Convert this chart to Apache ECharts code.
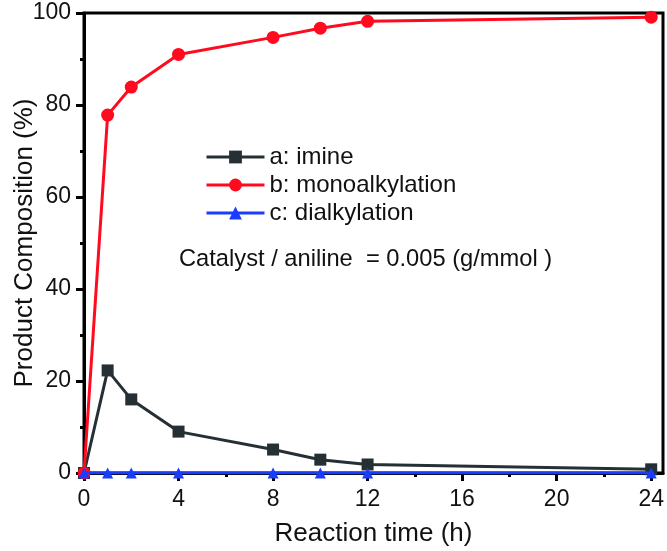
<!DOCTYPE html>
<html>
<head>
<meta charset="utf-8">
<script src="https://cdn.jsdelivr.net/npm/echarts@6/dist/echarts.min.js"></script>
<style>html,body{margin:0;padding:0;background:#fff}#c{width:667px;height:551px}</style>
</head>
<body>
<div id="c"></div>
<script>
const times = [0, 1, 2, 4, 8, 10, 12, 24];
const imine = [0, 22.3, 16.0, 9.0, 5.1, 2.9, 1.85, 0.8];
const mono = [0, 77.8, 83.9, 91.0, 94.7, 96.7, 98.2, 99.1];
const dial = [0, 0, 0, 0, 0, 0, 0, 0];
const xMajor = [0, 4, 8, 12, 16, 20, 24];
const xMinor = [2, 6, 10, 14, 18, 22];
const seriesNames = ['a: imine', 'b: monoalkylation', 'c: dialkylation'];
const note = 'Catalyst / aniline  = 0.005 (g/mmol )';

const font = 'Liberation Sans, Arial, sans-serif';
const pair = (ys) => times.map((t, i) => [t, ys[i]]);

const chart = echarts.init(document.getElementById('c'));
chart.setOption({
  animation: false,
  backgroundColor: '#fff',
  grid: { left: 84, right: 4, top: 13, bottom: 78, show: true, borderColor: '#000', borderWidth: 3,
          backgroundColor: 'transparent', containLabel: false, outerBoundsMode: 'none' },
  legend: {
    orient: 'vertical', left: 200, top: 140, itemWidth: 58, itemHeight: 16, itemGap: 4,
    textStyle: { fontFamily: font, fontSize: 24, color: '#111' },
    lineStyle: { width: 3 },
    data: seriesNames
  },
  graphic: [{
    type: 'text', left: 179, top: 247,
    style: { text: note, fontFamily: font, fontSize: 23.7, fill: '#111' }
  }],
  xAxis: [{
    type: 'value', min: 0, max: 24.5, interval: 4,
    name: 'Reaction time (h)', nameLocation: 'middle', nameGap: 48, nameMoveOverlap: false,
    nameTextStyle: { fontFamily: font, fontSize: 26, color: '#111' },
    axisLine: { show: true, lineStyle: { color: '#000', width: 3 } },
    axisTick: { show: true, length: 8, lineStyle: { color: '#000', width: 3 }, customValues: xMajor },
    axisLabel: { fontFamily: font, fontSize: 23, color: '#111', margin: 15, customValues: xMajor },
    splitLine: { show: false }
  }, {
    type: 'value', min: 0, max: 24.5, position: 'bottom', offset: 0,
    axisLine: { show: false },
    axisTick: { show: true, length: 4, lineStyle: { color: '#000', width: 3 }, customValues: xMinor },
    axisLabel: { show: false },
    splitLine: { show: false }
  }],
  yAxis: {
    type: 'value', min: 0, max: 100, interval: 20,
    name: 'Product Composition (%)', nameLocation: 'middle', nameGap: 46, nameMoveOverlap: false,
    nameTextStyle: { fontFamily: font, fontSize: 26, color: '#111' },
    axisLine: { show: true, lineStyle: { color: '#000', width: 3 } },
    axisTick: { show: true, length: 8, lineStyle: { color: '#000', width: 3 } },
    minorTick: { show: true, splitNumber: 2, length: 4, lineStyle: { color: '#000', width: 3 } },
    axisLabel: { fontFamily: font, fontSize: 23, color: '#111', margin: 13 },
    splitLine: { show: false }
  },
  series: [
    { name: seriesNames[0], type: 'line', data: pair(imine), symbol: 'rect', symbolSize: 12,
      itemStyle: { color: '#263034' }, lineStyle: { color: '#263034', width: 3 }, z: 3 },
    { name: seriesNames[1], type: 'line', data: pair(mono), symbol: 'circle', symbolSize: 13,
      itemStyle: { color: '#ff0a1e' }, lineStyle: { color: '#ff0a1e', width: 3 }, z: 4 },
    { name: seriesNames[2], type: 'line', data: pair(dial), symbol: 'triangle', symbolSize: 11,
      itemStyle: { color: '#1a3cff' }, lineStyle: { color: '#1a3cff', width: 3 }, z: 5 }
  ]
});
</script>
</body>
</html>
